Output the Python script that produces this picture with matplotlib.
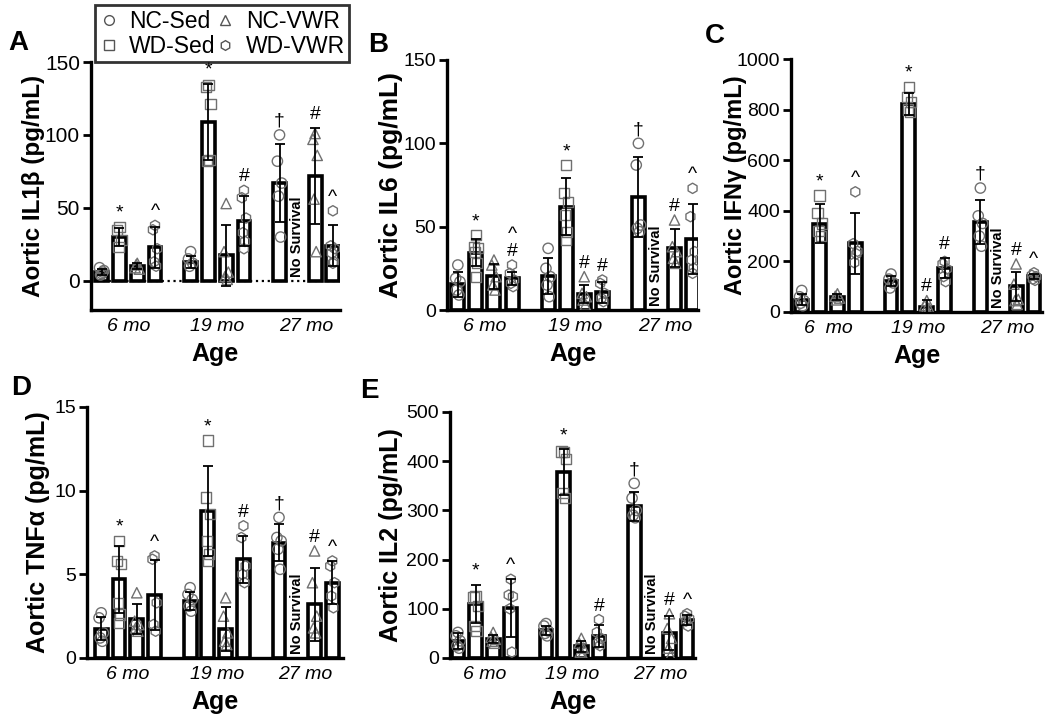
import numpy as np
import matplotlib.pyplot as plt
from matplotlib.lines import Line2D

plt.rcParams["font.family"] = ["Liberation Sans", "DejaVu Sans"]

# Groups / conditions
ages = ["6 mo", "19 mo", "27 mo"]
groups = ["NC-Sed", "WD-Sed", "NC-VWR", "WD-VWR"]
markers = ["o", "s", "^", "h"]
nan = np.nan

# ---- IL1b ----
il1b_mean = [6, 30, 10, 23, 13, 109, 17.5, 41, 67, nan, 72, 24]
il1b_sd = [2, 6, 2, 14, 4, 26, 21, 17, 27, nan, 33, 14]
il1b_pts = [[5, 9, 7, 4, 6], [37, 35, 28, 23], [12, 9, 8, 11], [38, 35, 22, 13, 10],
            [20, 15, 12, 10], [134, 133, 121, 82, 83], [53, 20, 6, 3, 1], [62, 57, 43, 33, 27, 22],
            [100, 82, 67, 58, 30], [], [101, 97, 86, 56, 20], [48, 24, 22, 19, 13, 12]]
il1b_sig = ["", "*", "", "^", "", "*", "", "#", "†", "", "#", "^"]

# ---- IL6 ----
il6_mean = [15.4, 34.4, 20.4, 19, 20.4, 62, 9.6, 10.6, 67.6, nan, 37.4, 42.4]
il6_sd = [7.5, 8, 7.5, 4, 11, 17, 5.5, 6.5, 24, nan, 11.5, 21]
il6_pts = [[27, 19, 17, 12, 9], [45, 38, 37, 35, 28, 20], [30, 27, 20, 15, 12], [27, 22, 18, 16, 14],
           [37, 25, 20, 15, 8], [87, 70, 65, 57, 47, 42], [20, 10, 8, 6, 3], [18, 16, 10, 7, 5],
           [100, 87, 51, 49, 47], [], [54, 38, 35, 31, 28], [73, 56, 35, 30, 25, 22]]
il6_sig = ["", "*", "", "^\n#", "", "*", "#", "#", "†", "", "#", "^"]

# ---- IFNg ----
ifng_mean = [49, 349, 59, 272, 121, 822, 20, 174, 355, nan, 101, 141]
ifng_sd = [23, 78, 12, 120, 20, 45, 29, 40, 88, nan, 57, 10]
ifng_pts = [[85, 60, 45, 35, 25], [460, 390, 350, 320, 300], [72, 62, 55, 48], [475, 270, 240, 195, 230],
            [150, 130, 115, 95], [890, 850, 830, 800, 790], [45, 25, 15, 8, 5], [200, 190, 170, 140, 120],
            [490, 380, 350, 300, 260], [], [190, 110, 50, 45, 30], [155, 145, 140, 130, 125]]
ifng_sig = ["", "*", "", "^", "", "*", "#", "#", "†", "", "#", "^"]

# ---- TNFa ----
tnfa_mean = [1.75, 4.7, 2.33, 3.75, 3.4, 8.8, 1.73, 5.9, 6.9, nan, 3.2, 4.5]
tnfa_sd = [0.7, 2.0, 0.9, 2.1, 0.55, 2.7, 1.3, 1.4, 1.1, nan, 2.2, 1.3]
tnfa_pts = [[2.7, 2.4, 1.5, 1.2, 1.0], [7.0, 5.8, 5.6, 3.3, 2.6, 2.1], [3.9, 2.2, 2.0, 1.8, 1.6],
            [6.1, 5.9, 3.3, 2.0, 1.6], [4.2, 3.8, 3.5, 3.1, 2.8], [13.0, 9.6, 8.6, 7.0, 6.2, 5.8],
            [3.6, 2.5, 1.5, 1.0, 0.8], [7.9, 7.2, 5.5, 5.0, 4.5], [8.4, 7.2, 7.0, 6.5, 5.3], [],
            [6.4, 4.5, 2.5, 1.8, 1.5], [5.8, 5.5, 4.5, 3.7, 3.0]]
tnfa_sig = ["", "*", "", "^", "", "*", "", "#", "†", "", "#", "^"]

# ---- IL2 ----
il2_mean = [35, 110, 39, 102, 56, 378, 24, 45, 308, nan, 51, 78]
il2_sd = [16, 39, 8, 59, 10, 47, 11, 23, 29, nan, 34, 10]
il2_pts = [[52, 45, 35, 25, 20], [125, 123, 105, 65, 55], [52, 42, 38, 34, 30], [160, 128, 125, 100, 12],
           [70, 65, 55, 50, 45], [418, 420, 405, 335, 325], [40, 30, 20, 12, 8], [78, 52, 40, 30, 25],
           [355, 325, 300, 290, 285], [], [90, 60, 40, 20, 5], [90, 85, 80, 75, 65]]
il2_sig = ["", "*", "", "^", "", "*", "", "#", "†", "", "#", "^"]

W, H = 1050, 716
fig = plt.figure(figsize=(W / 100, H / 100), dpi=100)

# bar positions: 4 bars per age group, gap between groups
xpos = np.array([g * 5 + j for g in range(3) for j in range(4)], dtype=float)
jitter = [0, -0.12, 0.12, -0.06, 0.06, 0]


def panel(rect, xlim, mean, sd, pts, sig, ylim, yticks, ylabel, ylab_size, ylab_x,
          tick_size, letter, letter_xy, xlabels=ages, zero_line=False):
    l, t, r, b = rect
    ax = fig.add_axes([l / W, 1 - b / H, (r - l) / W, (b - t) / H])
    for i in range(12):
        if np.isnan(mean[i]):
            continue
        ax.bar(xpos[i], mean[i], width=0.72, color="white", edgecolor="black",
               linewidth=2.6, zorder=2)
        m = markers[i % 4]
        for k, v in enumerate(pts[i]):
            ax.scatter(xpos[i] + jitter[k % len(jitter)], v, marker=m, s=55,
                       facecolors="none", edgecolors="#707070", linewidths=1.0, zorder=3)
        ax.errorbar(xpos[i], mean[i], yerr=sd[i], fmt="none", ecolor="black",
                    elinewidth=1.3, capsize=3.5, capthick=1.3, zorder=4)
    rng = ylim[1] - ylim[0]
    for i, s in enumerate(sig):
        if not s:
            continue
        top = max([mean[i] + sd[i]] + list(pts[i]))
        ax.text(xpos[i], top + 0.02 * rng, s, ha="center", va="bottom",
                fontsize=14, linespacing=1.0, clip_on=False)
    # no survival label at WD-Sed 27 mo
    ax.text(xpos[9], max(0, ylim[0]) + 0.015 * rng, "No Survival", rotation=90,
            ha="center", va="bottom", fontsize=10.5, fontweight="bold")
    if zero_line:
        ax.axhline(0, color="black", ls=":", lw=1.6, zorder=1)
    ax.set_xlim(*xlim)
    ax.set_ylim(*ylim)
    ax.set_yticks(yticks)
    ax.set_xticks([1.5, 6.5, 11.5])
    ax.set_xticklabels(xlabels, fontsize=14, style="italic")
    ax.tick_params(axis="x", length=0, pad=6)
    ax.tick_params(axis="y", labelsize=tick_size, width=2, length=6, pad=2)
    for s in ["top", "right"]:
        ax.spines[s].set_visible(False)
    for s in ["left", "bottom"]:
        ax.spines[s].set_linewidth(2.4)
    ax.set_xlabel("Age", fontsize=18, fontweight="bold", labelpad=5)
    ax.set_ylabel(ylabel, fontsize=ylab_size, fontweight="bold")
    ax.yaxis.set_label_coords((ylab_x - l) / (r - l), 0.5)
    fig.text(letter_xy[0] / W, 1 - letter_xy[1] / H, letter, fontsize=20,
             fontweight="bold", ha="left", va="center")
    return ax


panel((91, 62, 340, 310), (-0.6, 13.4), il1b_mean, il1b_sd, il1b_pts, il1b_sig,
      (-20, 150), [0, 50, 100, 150], "Aortic IL1β (pg/mL)", 17.5, 45, 15,
      "A", (8, 43), zero_line=True)
panel((447, 60, 698, 310), (-0.6, 13.3), il6_mean, il6_sd, il6_pts, il6_sig,
      (0, 150), [0, 50, 100, 150], "Aortic IL6 (pg/mL)", 19, 403, 14,
      "B", (368, 45))
panel((791, 59, 1042, 312), (-0.6, 13.45), ifng_mean, ifng_sd, ifng_pts, ifng_sig,
      (0, 1000), [0, 200, 400, 600, 800, 1000], "Aortic IFNγ (pg/mL)", 17, 747, 14,
      "C", (705, 36), xlabels=["6  mo", "19 mo", "27 mo"])
panel((87, 407, 343, 658), (-0.8, 13.6), tnfa_mean, tnfa_sd, tnfa_pts, tnfa_sig,
      (0, 15), [0, 5, 10, 15], "Aortic TNFα (pg/mL)", 18, 50, 14,
      "D", (11, 388))
panel((450, 412, 695, 658), (-0.45, 13.45), il2_mean, il2_sd, il2_pts, il2_sig,
      (0, 500), [0, 100, 200, 300, 400, 500], "Aortic IL2 (pg/mL)", 18, 403, 14,
      "E", (360, 391))

handles = [Line2D([], [], ls="none", marker=m, markersize=7, markerfacecolor="none",
                  markeredgecolor="#555555", markeredgewidth=1.0) for m in markers]
leg = fig.legend(handles, groups, ncol=2, loc="upper left",
                 bbox_to_anchor=(95 / W, 1 - 5 / H), borderaxespad=0, fontsize=16.5,
                 frameon=True, fancybox=False, edgecolor="black", handletextpad=0.5,
                 columnspacing=0.0, borderpad=0.2, labelspacing=0.1, handlelength=0.8)
leg.get_frame().set_linewidth(2)

fig.savefig("out.png", dpi=100)
